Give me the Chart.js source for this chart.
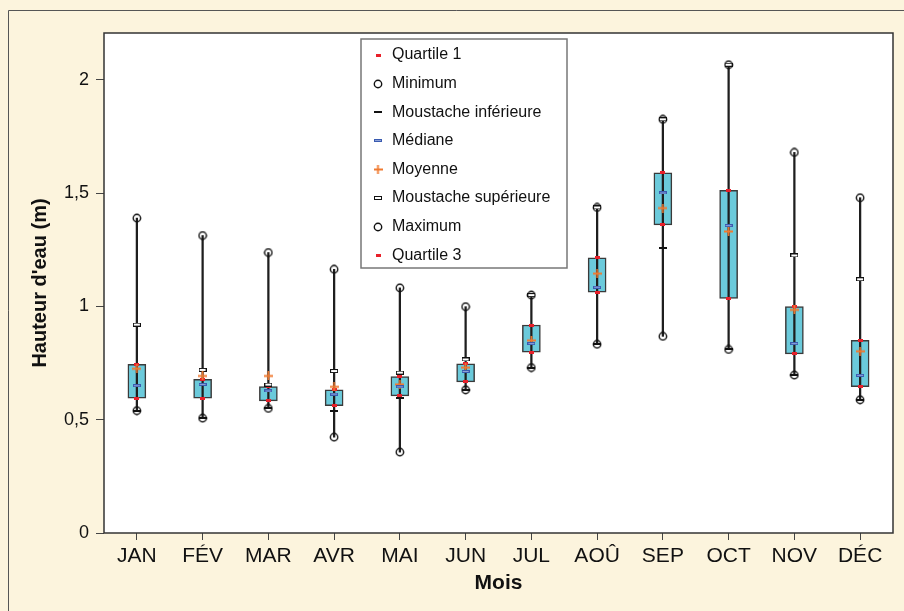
<!DOCTYPE html>
<html>
<head>
<meta charset="utf-8">
<script src="https://cdn.jsdelivr.net/npm/chart.js@4.4.1/dist/chart.umd.min.js"></script>
<style>
  html, body { margin: 0; padding: 0; background: #FCF4DD; }
  #wrap { width: 904px; height: 611px; }
</style>
</head>
<body>
<div id="wrap"><canvas id="boxChart" width="904" height="611"></canvas></div>
<script>
// Monthly water height statistics (m)
const months = ['JAN', 'FÉV', 'MAR', 'AVR', 'MAI', 'JUN', 'JUL', 'AOÛ', 'SEP', 'OCT', 'NOV', 'DÉC'];
const quartile1 = [0.595, 0.595, 0.583, 0.562, 0.605, 0.667, 0.798, 1.063, 1.36, 1.035, 0.791, 0.646];
const minimum   = [0.54, 0.507, 0.55, 0.423, 0.357, 0.632, 0.73, 0.833, 0.868, 0.81, 0.697, 0.588];
const lowWhisker = [0.54, 0.507, 0.55, 0.54, 0.598, 0.632, 0.73, 0.833, 1.26, 0.81, 0.697, 0.588];
const median    = [0.65, 0.656, 0.627, 0.613, 0.645, 0.713, 0.836, 1.085, 1.501, 1.357, 0.836, 0.696];
const mean      = [0.725, 0.693, 0.693, 0.645, 0.656, 0.73, 0.85, 1.145, 1.434, 1.331, 0.985, 0.802];
const highWhisker = [0.92, 0.72, 0.655, 0.715, 0.708, 0.766, 1.05, 1.437, 1.826, 2.067, 1.225, 1.12];
const maximum   = [1.39, 1.313, 1.238, 1.164, 1.082, 0.999, 1.05, 1.437, 1.826, 2.067, 1.68, 1.48];
const quartile3 = [0.745, 0.678, 0.646, 0.632, 0.69, 0.747, 0.918, 1.215, 1.59, 1.513, 0.999, 0.85];
const yTicks = [0, 0.5, 1, 1.5, 2];

// small canvases used as point markers
function marker(w, h, draw) {
  const c = document.createElement('canvas');
  c.width = w; c.height = h;
  draw(c.getContext('2d'));
  return c;
}
const redMark = marker(5, 3, g => { g.fillStyle = '#E8202A'; g.fillRect(0, 0, 5, 3); });
const circleMark = marker(10, 10, g => {
  g.strokeStyle = '#111'; g.lineWidth = 1.4;
  g.beginPath(); g.arc(5, 5, 3.7, 0, Math.PI * 2); g.stroke();
});
const dashMark = marker(8, 2, g => { g.fillStyle = '#111'; g.fillRect(0, 0, 8, 2); });
const medianMark = marker(8, 3, g => {
  g.fillStyle = '#8FA3D8'; g.fillRect(0, 0, 8, 3);
  g.strokeStyle = '#3A5BB0'; g.lineWidth = 1; g.strokeRect(0.5, 0.5, 7, 2);
});
const crossMark = marker(9, 9, g => {
  g.strokeStyle = '#F07A30'; g.lineWidth = 1.8;
  g.beginPath(); g.moveTo(0, 4.5); g.lineTo(9, 4.5); g.moveTo(4.5, 0); g.lineTo(4.5, 9); g.stroke();
});
const openRectMark = marker(8, 4, g => {
  g.fillStyle = '#fff'; g.fillRect(0, 0, 8, 4);
  g.strokeStyle = '#111'; g.lineWidth = 1; g.strokeRect(0.5, 0.5, 7, 3);
});

function pts(label, data, style) {
  return {
    type: 'line', label: label, data: data, showLine: false,
    pointStyle: style, pointRadius: 4, order: 1, isMarker: true
  };
}

const frameAndLegend = {
  id: 'frameAndLegend',
  beforeDraw(chart) {
    const { ctx, chartArea: a } = chart;
    ctx.save();
    ctx.fillStyle = '#FCF4DD';
    ctx.fillRect(0, 0, chart.width, chart.height);
    ctx.strokeStyle = '#555'; ctx.lineWidth = 1;
    ctx.beginPath(); ctx.moveTo(8.5, chart.height); ctx.lineTo(8.5, 10.5); ctx.lineTo(chart.width, 10.5); ctx.stroke();
    ctx.fillStyle = '#fff';
    ctx.fillRect(a.left, a.top, a.right - a.left, a.bottom - a.top);
    ctx.restore();
  },
  afterDraw(chart) {
    const { ctx, chartArea: a } = chart;
    ctx.save();
    ctx.strokeStyle = '#333'; ctx.lineWidth = 1.5;
    ctx.strokeRect(a.left, a.top, a.right - a.left, a.bottom - a.top);

    // legend box inside the plot
    const lx = a.left + 257, ly = a.top + 6, lw = 206, lh = 229;
    ctx.fillStyle = '#fff';
    ctx.fillRect(lx, ly, lw, lh);
    ctx.strokeStyle = '#777'; ctx.lineWidth = 1.5;
    ctx.strokeRect(lx, ly, lw, lh);
    ctx.font = '16px "Liberation Sans", Arial, sans-serif';
    ctx.fillStyle = '#111';
    ctx.textBaseline = 'middle';
    const items = chart.data.datasets.filter(d => d.isMarker);
    items.forEach((d, i) => {
      const y = ly + 16 + i * 28.6;
      const img = d.pointStyle;
      ctx.drawImage(img, lx + 17 - img.width / 2, Math.round(y - img.height / 2));
      ctx.fillText(d.label, lx + 31, y);
    });
    ctx.restore();
  }
};

new Chart(document.getElementById('boxChart'), {
  data: {
    labels: months,
    datasets: [
      pts('Quartile 1', quartile1, redMark),
      pts('Minimum', minimum, circleMark),
      pts('Moustache inférieure', lowWhisker, dashMark),
      pts('Médiane', median, medianMark),
      pts('Moyenne', mean, crossMark),
      pts('Moustache supérieure', highWhisker, openRectMark),
      pts('Maximum', maximum, circleMark),
      pts('Quartile 3', quartile3, redMark),
      {
        type: 'bar', label: 'whisker', data: months.map((m, i) => [minimum[i], maximum[i]]),
        backgroundColor: '#1e1e1e', borderWidth: 0, barThickness: 1.6, grouped: false, order: 5
      },
      {
        type: 'bar', label: 'box', data: months.map((m, i) => [quartile1[i], quartile3[i]]),
        backgroundColor: '#6BCADB', borderColor: '#3a3a3a', borderWidth: 1.5, borderSkipped: false,
        barThickness: 18, grouped: false, order: 10
      }
    ]
  },
  options: {
    responsive: false,
    animation: false,
    layout: { padding: { left: 0, top: 33, right: 11, bottom: 0 } },
    plugins: {
      legend: { display: false },
      tooltip: { enabled: false }
    },
    scales: {
      x: {
        type: 'category',
        offset: true,
        afterFit(s) { s.height = 78; },
        grid: { offset: false, drawOnChartArea: false, drawTicks: true, tickLength: 7, color: '#444' },
        border: { display: false },
        ticks: { color: '#111', padding: 4, font: { family: '"Liberation Sans", Arial, sans-serif', size: 21 } },
        title: {
          display: true, text: 'Mois', color: '#111', padding: { bottom: 15 },
          font: { family: '"Liberation Sans", Arial, sans-serif', size: 21, weight: 'bold' }
        }
      },
      y: {
        min: 0, max: 2.207,
        afterFit(s) { s.width = 104; },
        afterBuildTicks(s) { s.ticks = yTicks.map(v => ({ value: v })); },
        grid: { drawOnChartArea: false, drawTicks: true, tickLength: 8, color: '#444' },
        border: { display: false },
        ticks: {
          color: '#111', padding: 7,
          font: { family: '"Liberation Sans", Arial, sans-serif', size: 18 },
          callback: v => String(v).replace('.', ',')
        },
        title: {
          display: true, text: "Hauteur d'eau (m)", color: '#111', padding: { top: 28 },
          font: { family: '"Liberation Sans", Arial, sans-serif', size: 20, weight: 'bold' }
        }
      }
    }
  },
  plugins: [frameAndLegend]
});
</script>
</body>
</html>
